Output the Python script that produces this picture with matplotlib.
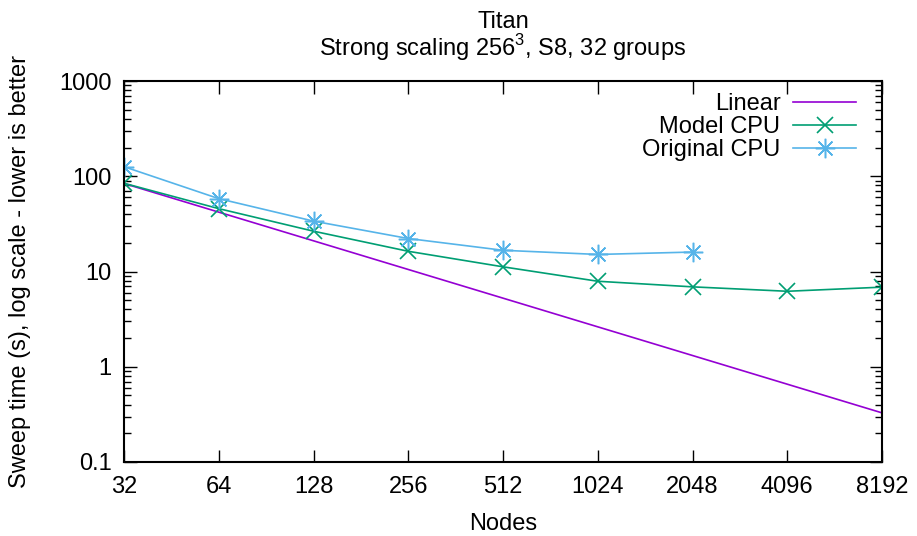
import matplotlib
matplotlib.use("Agg")
import matplotlib.pyplot as plt
from matplotlib.ticker import LogLocator, NullFormatter, FixedLocator, NullLocator

plt.rcParams['font.family'] = ['Liberation Sans', 'DejaVu Sans']

# data
nodes = [32, 64, 128, 256, 512, 1024, 2048, 4096, 8192]
node_labels = ["32", "64", "128", "256", "512", "1024", "2048", "4096", "8192"]
linear = [84.0, 42.0, 21.0, 10.5, 5.25, 2.625, 1.3125, 0.656, 0.328]
model_cpu = [84.4, 45.7, 26.5, 16.3, 11.2, 7.9, 6.9, 6.2, 6.85]
orig_nodes = [32, 64, 128, 256, 512, 1024, 2048]
orig_cpu = [126, 58.2, 33.8, 22.2, 16.7, 15.1, 16.0]

W, H = 917, 536
fig = plt.figure(figsize=(W / 100, H / 100), dpi=100)
ax = fig.add_axes([124 / W, 1 - 462 / H, (882 - 124) / W, (462 - 81) / H])

ax.plot(nodes, linear, color='#9400d3', lw=1.2, label='Linear')
ax.plot(nodes, model_cpu, color='#009e73', lw=1.2, marker='x', ms=11, mew=1.2,
        label='Model CPU')
ax.plot(orig_nodes, orig_cpu, color='#56b4e9', lw=1.2, marker=(8, 2, 0), ms=14, mew=1.1,
        label='Original CPU')

ax.set_xscale('log', base=2)
ax.set_yscale('log')
ax.set_xlim(32, 8192)
ax.set_ylim(0.1, 1000)
ax.xaxis.set_major_locator(FixedLocator(nodes))
ax.set_xticklabels(node_labels)
ax.xaxis.set_minor_locator(NullLocator())
ax.set_yticks([0.1, 1, 10, 100, 1000])
ax.set_yticklabels(["0.1", "1", "10", "100", "1000"])
ax.yaxis.set_minor_locator(LogLocator(base=10, subs=range(2, 10)))
ax.yaxis.set_minor_formatter(NullFormatter())

ax.tick_params(which='both', direction='in', top=True, right=True, labelsize=17, width=1)
ax.tick_params(which='major', length=9)
ax.tick_params(which='minor', length=5)
ax.tick_params(axis='x', pad=10)
ax.tick_params(axis='y', pad=9)
for s in ax.spines.values():
    s.set_linewidth(1.5)

ax.set_xlabel('Nodes', fontsize=17)
ax.xaxis.set_label_coords(0.5, -0.135)
ax.set_ylabel('Sweep time (s), log scale - lower is better', fontsize=17)
ax.yaxis.set_label_coords(-0.137, 0.5)
ax.yaxis.label.set_va('center')

fig.text(503 / W, 1 - 22 / H, 'Titan', ha='center', va='center', fontsize=17)
fig.text(503 / W, 1 - 48 / H, r'Strong scaling 256$^{\mathregular{3}}$, S8, 32 groups',
         ha='center', va='center', fontsize=17)

ax.legend(loc='upper right', bbox_to_anchor=((856 - 124) / 758, (462 - 93) / 381),
          frameon=False, markerfirst=False, fontsize=17, handlelength=2.65,
          handletextpad=0.55, labelspacing=0.05, borderpad=0, borderaxespad=0)

fig.savefig('out.png', dpi=100)
